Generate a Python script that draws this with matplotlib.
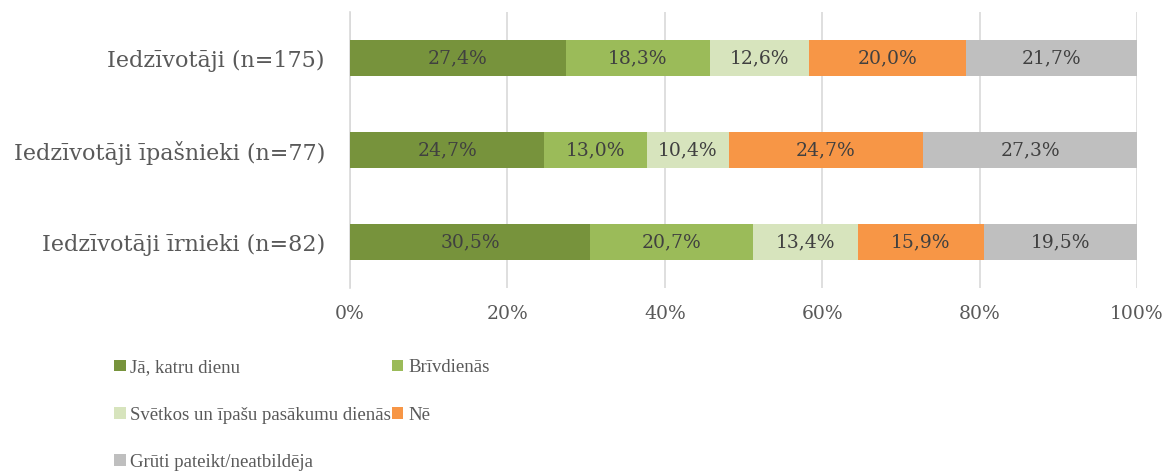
import matplotlib.pyplot as plt
from matplotlib import font_manager
import numpy as np

plt.rcParams['font.family'] = ['DejaVu Serif']

groups = ['Iedzīvotāji (n=175)', 'Iedzīvotāji īpašnieki (n=77)', 'Iedzīvotāji īrnieki (n=82)']
answers = ['Jā, katru dienu', 'Brīvdienās', 'Svētkos un īpašu pasākumu dienās', 'Nē',
           'Grūti pateikt/neatbildēja']
ja = [27.4, 24.7, 30.5]
brivdienas = [18.3, 13.0, 20.7]
svetkos = [12.6, 10.4, 13.4]
ne = [20.0, 24.7, 15.9]
gruti = [21.7, 27.3, 19.5]
colors = ['#77933c', '#9bbb59', '#d7e4bd', '#f79646', '#bfbfbf']

series = [ja, brivdienas, svetkos, ne, gruti]

# legend text is narrow in the original, use a condensed serif if we have one
legend_family = 'Liberation Serif'
for fam in ['DejaVu Serif Condensed', 'Liberation Serif']:
    try:
        font_manager.findfont(font_manager.FontProperties(family=fam), fallback_to_default=False)
        legend_family = fam
        break
    except Exception:
        pass

fig = plt.figure(figsize=(11.67, 4.72), dpi=100)
ax = fig.add_axes([0.2999, 0.3898, 0.6744, 0.5848])

y = np.arange(len(groups))
left = np.zeros(len(groups))
handles = []
for vals, name, c in zip(series, answers, colors):
    vals = np.array(vals)
    bars = ax.barh(y, vals, left=left, height=0.39, color=c, label=name, zorder=3)
    handles.append(bars)
    for yi, l, v in zip(y, left, vals):
        ax.text(l + v / 2, yi, f"{v:.1f}%".replace('.', ','), ha='center', va='center',
                fontsize=13.5, color='#404040', zorder=4)
    left += vals

ax.set_xlim(0, 100)
ax.set_ylim(2.5, -0.5)
ax.set_yticks(y)
ax.set_yticklabels(groups, fontsize=16, color='#595959')
ax.set_xticks(np.arange(0, 101, 20))
ax.set_xticklabels([f"{t}%" for t in range(0, 101, 20)], fontsize=13.5, color='#595959')
ax.tick_params(axis='y', length=0, pad=18)
ax.tick_params(axis='x', length=0, pad=12)
ax.grid(axis='x', color='#d9d9d9', linewidth=1.2, zorder=0)
for s in ['top', 'right', 'bottom']:
    ax.spines[s].set_visible(False)
ax.spines['left'].set_color('#d9d9d9')
ax.spines['left'].set_linewidth(1.2)

order = [0, 2, 4, 1, 3]
fig.legend([handles[i] for i in order], [answers[i] for i in order], ncol=2,
           loc='upper left', bbox_to_anchor=(0.090, 0.259), frameon=False,
           prop={'family': legend_family, 'size': 13.5}, labelcolor='#595959',
           handlelength=0.6, handleheight=0.6, handletextpad=0.25, columnspacing=0.05,
           labelspacing=1.62, borderpad=0)

fig.savefig('out.png', dpi=100)
